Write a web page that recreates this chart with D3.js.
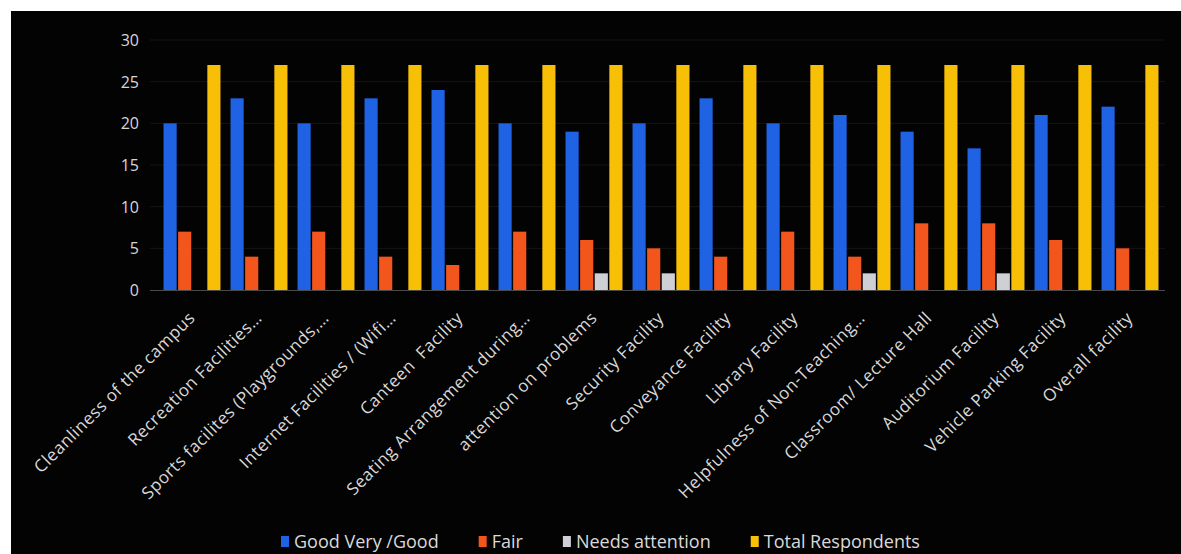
<!DOCTYPE html>
<html>
<head>
<meta charset="utf-8">
<script src="https://cdn.jsdelivr.net/npm/d3@7"></script>
<style>
  html, body { margin: 0; padding: 0; background: #ffffff; }
  svg { display: block; }
  text { font-family: "Open Sans", Lato, sans-serif; }
</style>
</head>
<body>
<svg id="chart" width="1181" height="554"></svg>
<script>
// ---- data ----
const categories = [
  "Cleanliness of the campus",
  "Recreation Facilities…",
  "Sports facilites (Playgrounds,…",
  "Internet Facilities / (Wifi…",
  "Canteen  Facility",
  "Seating Arrangement during…",
  "attention on problems",
  "Security Facility",
  "Conveyance Facility",
  "Library Facility",
  "Helpfulness of Non-Teaching…",
  "Classroom/ Lecture Hall",
  "Auditorium Facility",
  "Vehicle Parking Facility",
  "Overall facility"
];
const seriesNames = ["Good Very /Good", "Fair", "Needs attention", "Total Respondents"];
const goodValues  = [20, 23, 20, 23, 24, 20, 19, 20, 23, 20, 21, 19, 17, 21, 22];
const fairValues  = [7, 4, 7, 4, 3, 7, 6, 5, 4, 7, 4, 8, 8, 6, 5];
const needsValues = [0, 0, 0, 0, 0, 0, 2, 2, 0, 0, 2, 0, 2, 0, 0];
const totalValues = [27, 27, 27, 27, 27, 27, 27, 27, 27, 27, 27, 27, 27, 27, 27];
const yTicks = [0, 5, 10, 15, 20, 25, 30];
const seriesColors = ["#1f63e4", "#f2561c", "#cfcfd6", "#f7bf05"];

const seriesValues = [goodValues, fairValues, needsValues, totalValues];
const rows = categories.map((c, i) => ({
  cat: c,
  vals: seriesNames.map((s, k) => ({ key: s, value: seriesValues[k][i] }))
}));

// ---- layout ----
const svg = d3.select("#chart");
svg.append("rect").attr("x", 11).attr("y", 11).attr("width", 1170).attr("height", 543).attr("fill", "#030303");

const x0 = d3.scaleBand().domain(categories).range([158.5, 1163.5]).paddingInner(0.15).paddingOuter(0.075);
const x1 = d3.scaleBand().domain(seriesNames).range([0, x0.bandwidth()]).paddingInner(0.1).paddingOuter(0);
const y = d3.scaleLinear().domain([0, 30]).range([290, 40]);
const color = d3.scaleOrdinal().domain(seriesNames).range(seriesColors);

// gridlines
svg.append("g")
  .selectAll("line")
  .data(yTicks.filter(t => t > 0))
  .join("line")
  .attr("x1", 150).attr("x2", 1165)
  .attr("y1", d => y(d)).attr("y2", d => y(d))
  .attr("stroke", "#151515").attr("stroke-width", 1);

// y axis labels
const yAxis = d3.axisLeft(y).tickValues(yTicks).tickSize(0).tickPadding(0);
const gy = svg.append("g").attr("transform", "translate(139,0)").call(yAxis);
gy.select(".domain").remove();
gy.selectAll("text")
  .attr("fill", "#d6d6d6")
  .style("font-family", "\"Open Sans\", sans-serif")
  .style("font-size", "16px")
  .attr("dy", "0.35em");

// bars
svg.append("g")
  .selectAll("g")
  .data(rows)
  .join("g")
  .attr("transform", d => `translate(${x0(d.cat)},0)`)
  .selectAll("rect")
  .data(d => d.vals)
  .join("rect")
  .attr("x", d => x1(d.key))
  .attr("width", x1.bandwidth())
  .attr("y", d => y(d.value))
  .attr("height", d => y(0) - y(d.value))
  .attr("fill", d => color(d.key));

// x axis line
svg.append("line")
  .attr("x1", 150).attr("x2", 1165)
  .attr("y1", y(0) + 0.5).attr("y2", y(0) + 0.5)
  .attr("stroke", "#4a4a4a").attr("stroke-width", 1);

// category labels
const xAxis = d3.axisBottom(x0).tickSize(0).tickPadding(0);
const gx = svg.append("g").attr("transform", `translate(0,${y(0)})`).call(xAxis);
gx.select(".domain").remove();
gx.selectAll(".tick text")
  .attr("fill", "#d9d9d9")
  .style("font-family", "\"Open Sans\", sans-serif")
  .style("font-size", "17px")
  .style("letter-spacing", "0.5px")
  .style("white-space", "pre")
  .attr("text-anchor", "end")
  .attr("x", 0).attr("y", 0).attr("dy", 0)
  .attr("transform", "translate(4,29) rotate(-45)");

// legend
const legend = svg.append("g").attr("transform", "translate(281,548)");
let lx = 0;
seriesNames.forEach((s, k) => {
  const g = legend.append("g").attr("transform", `translate(${lx},0)`);
  g.append("rect").attr("x", 0).attr("y", -12).attr("width", 8).attr("height", 11).attr("fill", seriesColors[k]);
  const t = g.append("text").attr("x", 13).attr("y", 0).attr("fill", "#d9d9d9")
    .style("font-size", "18px").text(s);
  lx += 13 + t.node().getComputedTextLength() + 40;
});
</script>
</body>
</html>
